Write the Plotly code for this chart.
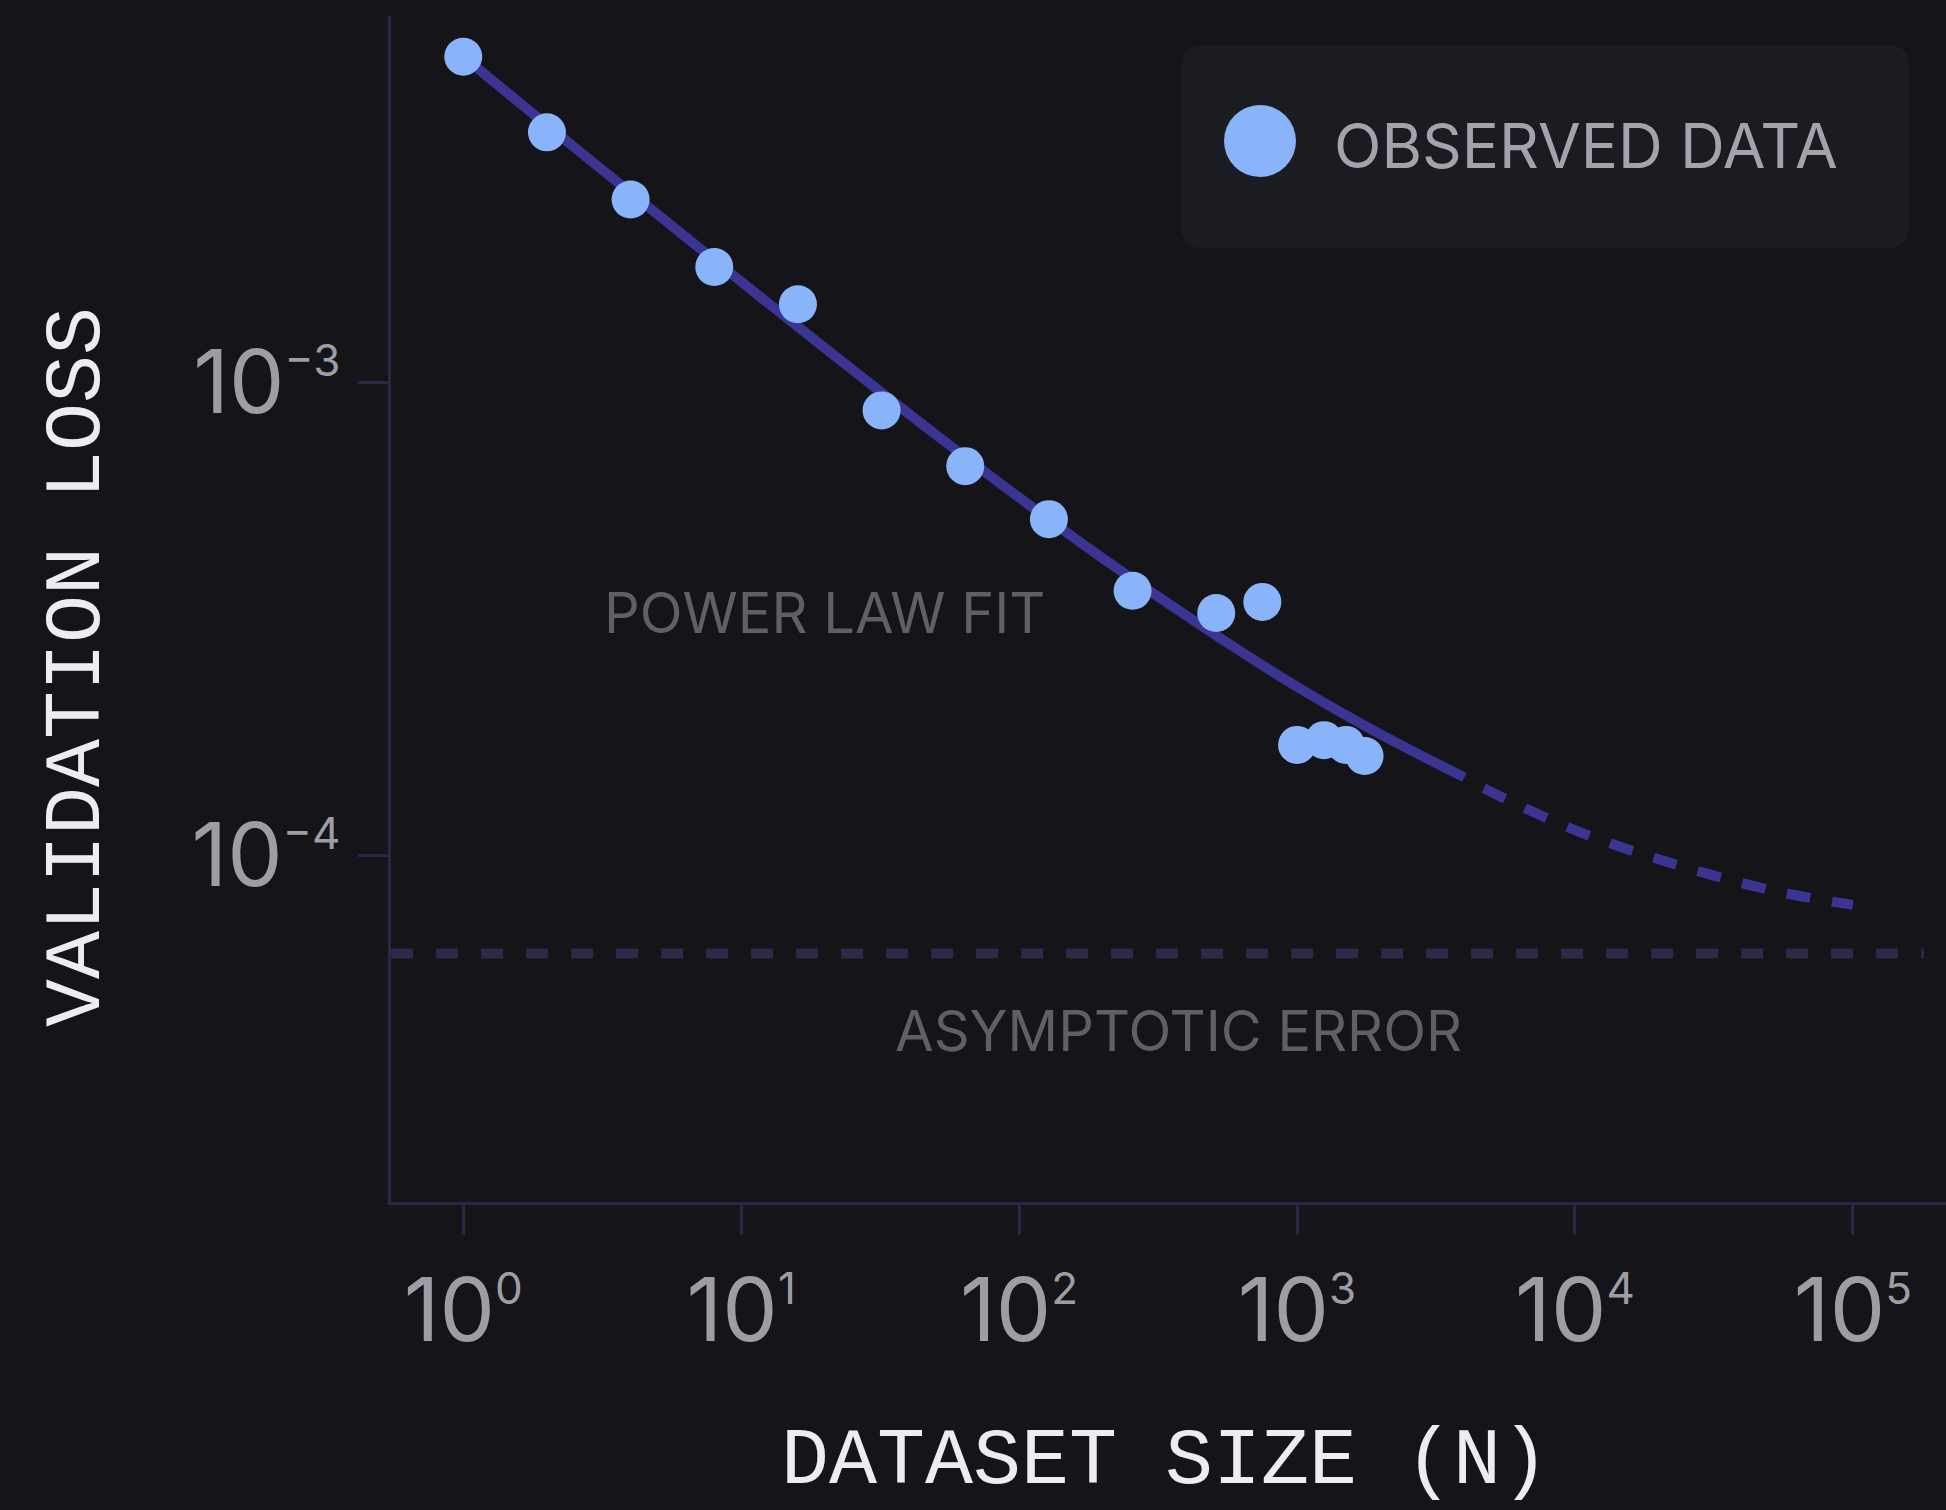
import plotly.graph_objects as go

# observed points
dataset_size = [1, 2, 4, 8, 16, 32, 64, 128, 256, 512, 750, 1000, 1250, 1500, 1750]
val_loss = [4.87e-3, 3.37e-3, 2.43e-3, 1.75e-3, 1.46e-3, 8.71e-4, 6.64e-4, 5.13e-4,
            3.62e-4, 3.25e-4, 3.43e-4, 1.71e-4, 1.75e-4, 1.71e-4, 1.62e-4]

# power law fit, solid over the data range, dashed beyond it
fit_n = [1, 2, 5, 10, 20, 50, 100, 200, 500, 1000, 2000, 4000]
fit_loss = [4.87e-3, 3.49e-3, 2.26e-3, 1.63e-3, 1.18e-3, 7.75e-4, 5.70e-4, 4.24e-4,
            2.94e-4, 2.27e-4, 1.80e-4, 1.46e-4]
extrap_n = [4000, 5000, 10000, 20000, 50000, 100000]
extrap_loss = [1.46e-4, 1.36e-4, 1.13e-4, 9.8e-5, 8.45e-5, 7.85e-5]

# asymptotic error level
asym_n = [0.55, 1.8e5]
asym_loss = [6.2e-5, 6.2e-5]

x_tickvals = [1, 10, 100, 1000, 10000, 100000]
x_exponents = ["0", "1", "2", "3", "4", "5"]
y_tickvals = [1e-3, 1e-4]
y_exponents = ["\u22123", "\u22124"]

BG = "#141419"
MARKER = "#89b4fa"
FIT = "#3b3492"
ASYM = "#2c2a48"
AXIS = "#2a2745"

W, H = 1946, 1510
L, R, T, B = 391, 0, 16, 308
plot_w = W - L - R
plot_h = H - T - B


def paper(x, y):
    # pixel position -> paper fraction
    return (x - L) / plot_w, (H - B - y) / plot_h


def power_label(exp):
    return f'10<sup><span style="font-size:44px">{exp}</span></sup>'


fig = go.Figure()

fig.add_trace(go.Scatter(
    x=asym_n, y=asym_loss, mode="lines",
    line=dict(color=ASYM, width=10, dash="22px,23px"),
    hoverinfo="skip", showlegend=False,
))
fig.add_trace(go.Scatter(
    x=fit_n, y=fit_loss, mode="lines",
    line=dict(color=FIT, width=10, shape="spline"),
    name="Power law fit", showlegend=False,
))
fig.add_trace(go.Scatter(
    x=extrap_n, y=extrap_loss, mode="lines",
    # start with a gap so the solid part ends visibly
    line=dict(color=FIT, width=10, shape="spline", dash="0px,22px,24px,0px"),
    name="Extrapolation", showlegend=False,
))
fig.add_trace(go.Scatter(
    x=dataset_size, y=val_loss, mode="markers",
    marker=dict(color=MARKER, size=38, line=dict(width=0)),
    name="Observed data", showlegend=False,
))

# legend drawn by hand: rounded box, big dot, label
bx0, by0, bx1, by1, r = 1181, 45, 1909, 248, 22


def P(x, y):
    px_, py_ = paper(x, y)
    return f"{px_:.5f},{py_:.5f}"


box_path = (
    f"M {P(bx0 + r, by0)} L {P(bx1 - r, by0)} Q {P(bx1, by0)} {P(bx1, by0 + r)} "
    f"L {P(bx1, by1 - r)} Q {P(bx1, by1)} {P(bx1 - r, by1)} "
    f"L {P(bx0 + r, by1)} Q {P(bx0, by1)} {P(bx0, by1 - r)} "
    f"L {P(bx0, by0 + r)} Q {P(bx0, by0)} {P(bx0 + r, by0)} Z"
)
fig.add_shape(type="path", path=box_path, xref="paper", yref="paper",
              fillcolor="#1b1b22", line=dict(width=0), layer="below")

dot_x, dot_y = paper(1260, 141)
fig.add_shape(type="circle", xref="paper", yref="paper",
              xsizemode="pixel", ysizemode="pixel",
              xanchor=dot_x, yanchor=dot_y, x0=-36, x1=36, y0=-36, y1=36,
              fillcolor=MARKER, line=dict(width=0))

lx, ly = paper(1332, 146)
fig.add_annotation(text="OBSERVED DATA", xref="paper", yref="paper", x=lx, y=ly,
                   xanchor="left", yanchor="middle", showarrow=False,
                   font=dict(family="Inter", size=62, color="#a3a3ab"))

# in-plot labels (log axes -> positions in log10 units)
fig.add_annotation(text="POWER LAW FIT", x=1.30, y=-3.489, showarrow=False,
                   font=dict(family="Inter", size=56, color="#5f5f67"))
fig.add_annotation(text="ASYMPTOTIC ERROR", x=2.572, y=-4.372, showarrow=False,
                   font=dict(family="Inter", size=56, color="#5f5f67"))

# axis titles
tx, ty = paper(1165, 1509)
fig.add_annotation(text="DATASET SIZE (N)", xref="paper", yref="paper", x=tx, y=ty,
                   xanchor="center", yanchor="bottom", showarrow=False,
                   font=dict(family="Liberation Mono", size=80, color="#ececf1"))
yx, yy = paper(77, 667)
fig.add_annotation(text="VALIDATION LOSS", xref="paper", yref="paper", x=yx, y=yy,
                   xanchor="center", yanchor="middle", textangle=-90, showarrow=False,
                   font=dict(family="Liberation Mono", size=80, color="#ececf1"))

fig.update_layout(
    width=W, height=H,
    paper_bgcolor=BG, plot_bgcolor=BG,
    margin=dict(l=L, r=R, t=T, b=B),
    showlegend=False,
    xaxis=dict(
        type="log", range=[-0.26, 5.335],
        tickvals=x_tickvals, ticktext=[power_label(e) for e in x_exponents],
        ticks="outside", ticklen=30, tickwidth=3, tickcolor=AXIS,
        showline=True, linewidth=3, linecolor=AXIS,
        showgrid=False, zeroline=False, automargin=False,
        tickfont=dict(family="Inter", size=88, color="#9d9da5"),
    ),
    yaxis=dict(
        type="log", range=[-4.733, -2.2265],
        tickvals=y_tickvals, ticktext=[power_label(e) for e in y_exponents],
        ticks="outside", ticklen=30, tickwidth=3, tickcolor=AXIS,
        showline=True, linewidth=3, linecolor=AXIS,
        showgrid=False, zeroline=False, automargin=False,
        tickfont=dict(family="Inter", size=88, color="#9d9da5"),
    ),
)

fig.write_html(
    "out.html",
    config={"displayModeBar": False},
    post_script="document.body.style.margin='0';document.body.style.background='#141419';",
)
